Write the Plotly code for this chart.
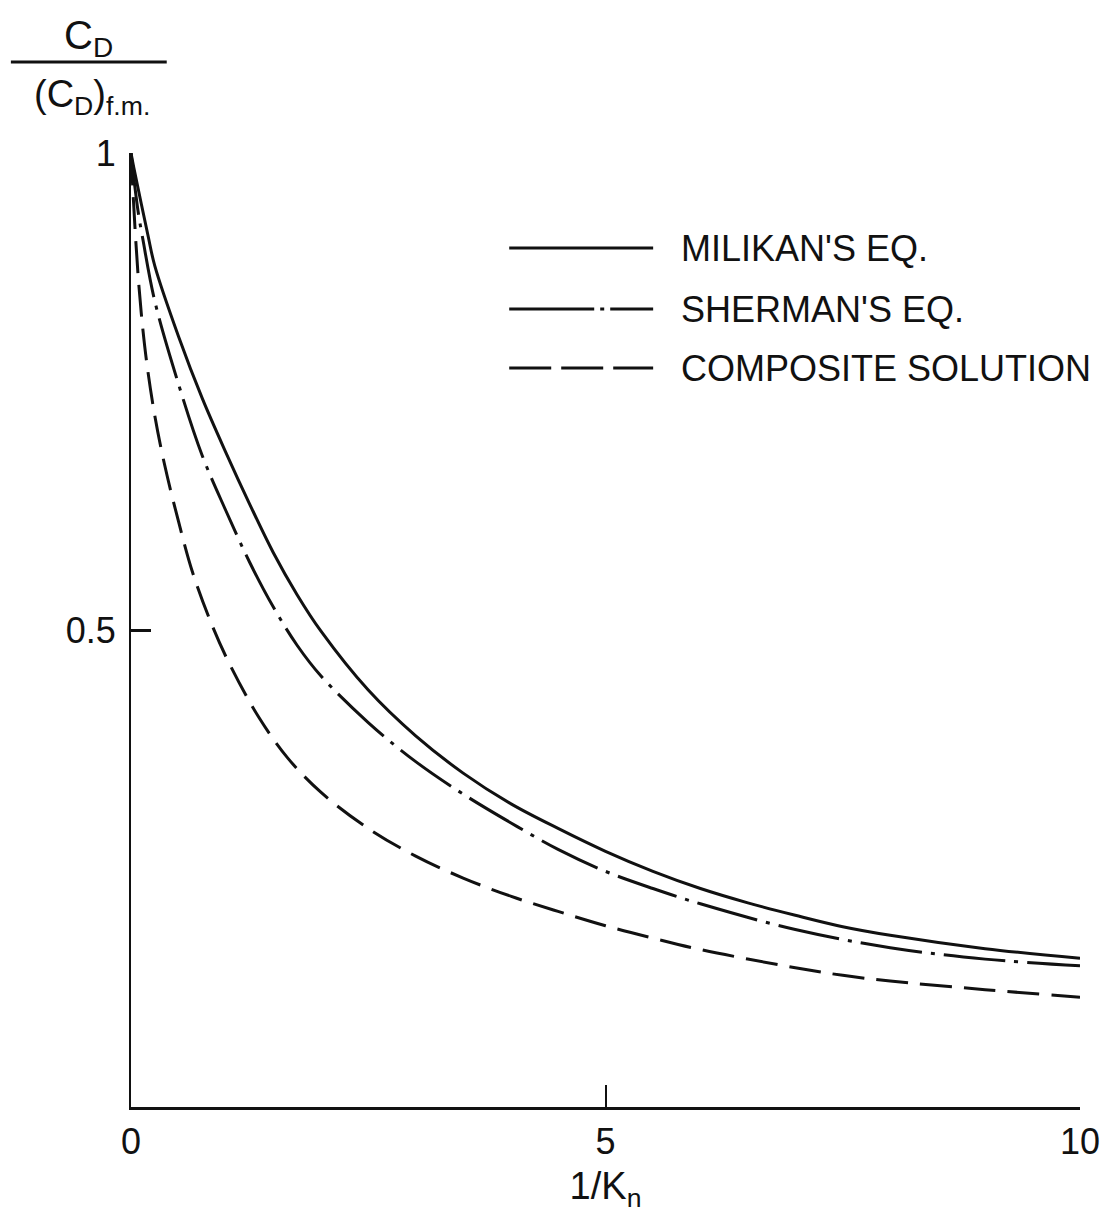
import plotly.graph_objects as go

# ---- data ----
milikan_x = [0.0, 0.031, 0.178, 0.25, 0.5, 0.75, 1.0, 1.25, 1.5, 1.75, 2.0, 2.5, 3.0, 3.5, 4.0, 4.5,
             5.0, 5.5, 6.0, 6.5, 7.0, 7.5, 8.0, 9.0, 10.0]
milikan_y = [1.0, 0.984, 0.914, 0.882, 0.808, 0.743, 0.686, 0.632, 0.581, 0.537, 0.499, 0.437, 0.389,
             0.350, 0.318, 0.292, 0.268, 0.247, 0.229, 0.214, 0.201, 0.189, 0.180, 0.166, 0.156]

sherman_x = [0.0, 0.073, 0.126, 0.25, 0.5, 0.75, 1.0, 1.25, 1.5, 1.75, 2.0, 2.5, 3.0, 3.5, 4.0, 4.5,
             5.0, 5.5, 6.0, 7.0, 8.0, 9.0, 10.0]
sherman_y = [1.0, 0.940, 0.909, 0.845, 0.758, 0.683, 0.625, 0.571, 0.524, 0.484, 0.452, 0.403, 0.362,
             0.328, 0.298, 0.270, 0.247, 0.229, 0.213, 0.186, 0.167, 0.155, 0.148]

composite_x = [0.0, 0.04, 0.08, 0.12, 0.17, 0.25, 0.35, 0.5, 0.65, 0.85, 1.05, 1.35, 1.65, 2.0, 2.5,
               3.0, 3.5, 4.0, 4.5, 5.0, 5.5, 6.0, 7.0, 7.5, 8.0, 9.0, 10.0]
composite_y = [1.0, 0.925, 0.865, 0.820, 0.777, 0.725, 0.675, 0.614, 0.560, 0.506, 0.462, 0.408, 0.366,
               0.330, 0.292, 0.263, 0.240, 0.221, 0.205, 0.190, 0.177, 0.165, 0.146, 0.138, 0.132,
               0.123, 0.115]

x_ticks = [0, 5, 10]
x_ticktext = ["0", "5", "10"]
y_ticks = [0.5, 1.0]
y_ticktext = ["0.5", "1"]

series_names = ["MILIKAN'S EQ.", "SHERMAN'S EQ.", "COMPOSITE SOLUTION"]

FONT = "Liberation Sans"
INK = "#111111"

# plot area in pixels
W, H = 1112, 1225
L, R, T, B = 131, 25, 153, 118
PW = W - L - R
PH = H - T - B


def px_x(p):
    return (p - L) / PW


def px_y(p):
    return (H - B - p) / PH


dash_dot = "62px,9px,4px,9px"
dashed = "32px,12px"

fig = go.Figure()
fig.add_trace(go.Scatter(x=milikan_x, y=milikan_y, mode="lines", name=series_names[0],
                         line=dict(color=INK, width=3, shape="spline", smoothing=1.0)))
fig.add_trace(go.Scatter(x=sherman_x, y=sherman_y, mode="lines", name=series_names[1],
                         line=dict(color=INK, width=3, dash=dash_dot, shape="spline", smoothing=1.0)))
fig.add_trace(go.Scatter(x=composite_x, y=composite_y, mode="lines", name=series_names[2],
                         line=dict(color=INK, width=3, dash=dashed, shape="spline", smoothing=1.0)))

# manual legend (long samples as in the reference)
legend_rows = [(248, "solid"), (309, "85px,6px,4px,6px"), (368, "42px,10px")]
for (row_y, dsh), name in zip(legend_rows, series_names):
    fig.add_shape(type="line", xref="paper", yref="paper",
                  x0=px_x(512), x1=px_x(657), y0=px_y(row_y), y1=px_y(row_y),
                  line=dict(color=INK, width=3, dash=dsh))
    fig.add_annotation(xref="paper", yref="paper", x=px_x(683), y=px_y(row_y),
                       xanchor="left", yanchor="middle", showarrow=False,
                       text=name, font=dict(family=FONT, size=36, color=INK))

# y-axis label as a fraction
fig.add_annotation(xref="paper", yref="paper", x=px_x(88), y=px_y(38),
                   xanchor="center", yanchor="middle", showarrow=False,
                   text="C<sub>D</sub>", font=dict(family=FONT, size=40, color=INK))
fig.add_shape(type="line", xref="paper", yref="paper",
              x0=px_x(10), x1=px_x(167), y0=px_y(62), y1=px_y(62),
              line=dict(color=INK, width=3))
fig.add_annotation(xref="paper", yref="paper", x=px_x(92), y=px_y(97),
                   xanchor="center", yanchor="middle", showarrow=False,
                   text="(C<sub>D</sub>)<sub>f.m.</sub>", font=dict(family=FONT, size=38, color=INK))

fig.update_layout(
    width=W, height=H,
    margin=dict(l=L, r=R, t=T, b=B, pad=0),
    paper_bgcolor="white", plot_bgcolor="white",
    showlegend=False,
    font=dict(family=FONT, color=INK),
)
fig.update_xaxes(range=[0, 10], tickvals=x_ticks, ticktext=x_ticktext,
                 showgrid=False, zeroline=False, showline=True, linecolor=INK, linewidth=3,
                 ticks="inside", ticklen=22, tickwidth=2, tickcolor=INK,
                 tickfont=dict(family=FONT, size=36, color=INK), ticklabelstandoff=1,
                 title=dict(text="1/K<sub>n</sub>", font=dict(family=FONT, size=38, color=INK), standoff=12))
fig.update_yaxes(range=[0, 1], tickvals=y_ticks, ticktext=y_ticktext,
                 showgrid=False, zeroline=False, showline=True, linecolor=INK, linewidth=2,
                 ticks="inside", ticklen=20, tickwidth=3, tickcolor=INK,
                 tickfont=dict(family=FONT, size=36, color=INK), ticklabelstandoff=6)

fig.write_html("out.html")
